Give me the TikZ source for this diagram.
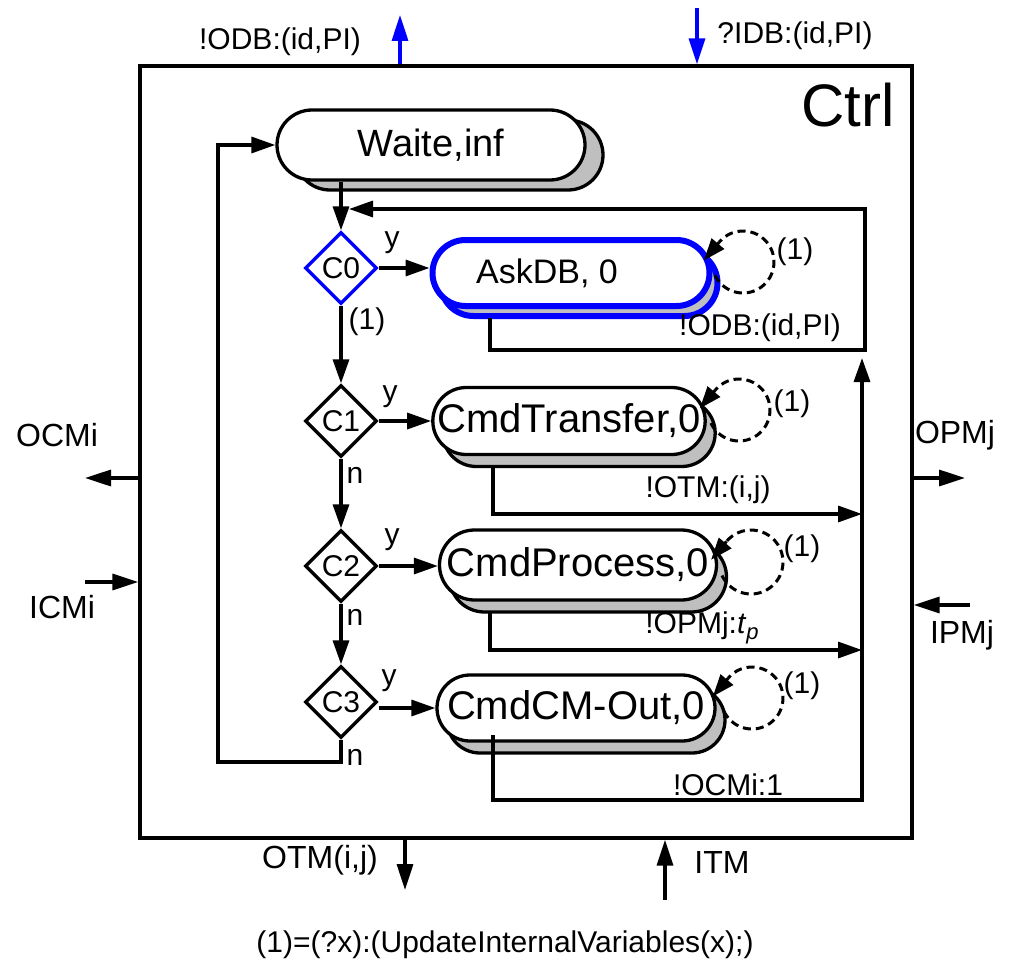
\documentclass[tikz,border=0pt]{standalone}
\usepackage{fontspec}
\setmainfont{Liberation Sans}
\usetikzlibrary{arrows.meta,shapes.geometric,shapes.misc,shadows,calc}
\newcommand\myfs[1]{\fontsize{#1}{#1}\selectfont}
\begin{document}
\begin{tikzpicture}[x=1pt,y=1pt,
  lw/.style={line width=3.3pt},
  conn/.style={lw,-{Triangle[length=24pt,width=16pt]}},
  port/.style={lw,-{Triangle[length=26pt,width=16pt]}},
  pill/.style={rounded rectangle,draw,lw,fill=white,inner sep=0pt,font=\myfs{40}},
  shad/.style={copy shadow={shadow xshift=10pt,shadow yshift=-12pt,fill=black!25,draw=black,line width=3.3pt}},
  decision/.style={diamond,draw,lw,fill=white,minimum width=72pt,minimum height=72pt,inner sep=0pt,font=\myfs{30}},
  lbl/.style={font=\myfs{30},inner sep=0pt},
  sm/.style={font=\myfs{30},inner sep=0pt},
  selfloop/.style={dash pattern=on 8pt off 5pt,line width=3pt},
  looptip/.style={solid,line width=3pt,-{Triangle[length=22pt,width=16pt]}}
]
\useasboundingbox (0,0) rectangle (1023,-971);

% main box
\node[draw,lw,minimum width=772pt,minimum height=772pt,inner sep=0pt] (box) at (526,-452) {};
\node[font=\myfs{60},inner sep=0pt] (ctrl) at (848,-105) {Ctrl};

% states
\node[pill,font=\myfs{38},minimum width=308pt,minimum height=70pt,
  copy shadow={shadow xshift=18pt,shadow yshift=-10pt,fill=black!25,draw=black,line width=3.3pt}]
  (waite) at (431,-145) {Waite,inf};
\node[pill,font=\myfs{34},draw=blue,line width=6pt,minimum width=277pt,minimum height=66pt,
  copy shadow={shadow xshift=8pt,shadow yshift=-10pt,fill=black!25,draw=blue,line width=6pt}]
  (ask) at (571,-273) {AskDB, 0\hspace*{48pt}};
\node[pill,shad,minimum width=272pt,minimum height=67pt] (xfer) at (569,-421) {CmdTransfer,0};
\node[pill,shad,minimum width=277pt,minimum height=70pt] (proc) at (578,-565) {CmdProcess,0};
\node[pill,shad,minimum width=278pt,minimum height=66pt] (cmout) at (576,-708) {CmdCM-Out,0};

% decisions
\node[decision,draw=blue] (c0) at (341,-268) {C0};
\node[decision] (c1) at (341,-421) {C1};
\node[decision] (c2) at (341,-566) {C2};
\node[decision] (c3) at (341,-702) {C3};

% coordinates
\coordinate (fbR) at (865,-350);
\coordinate (fbT) at (865,-209);
\coordinate (fbL) at (349,-209);
\coordinate (b514) at (862,-514);
\coordinate (b650) at (862,-650);
\coordinate (b800) at (862,-800);
\coordinate (b358) at (862,-358);
\coordinate (lp) at (218,-762);

% vertical flow
\draw[conn] (c0 |- waite.south) -- (c0.north);
\draw[conn] (c0.south) -- (c1.north);
\draw[conn] (c1.south) -- (c2.north);
\draw[conn] (c2.south) -- (c3.north);
\draw[conn] (c3.south) |- (lp) |- (waite.west);

% yes branches
\draw[conn] (c0.east) -- (c0.east -| ask.west);
\draw[conn] (c1.east) -- (c1.east -| xfer.west);
\draw[conn] (c2.east) -- (c2.east -| proc.west);
\draw[conn] ([yshift=-6pt]c3.east) -- ([yshift=-6pt]c3.east -| cmout.west);

% outputs
\draw[conn] (490,-318) |- (fbR) -- (fbT) -- (fbL);
\draw[conn] (493,-467) |- (b514);
\draw[conn] (490,-612) |- (b650);
\draw[conn] (493,-735) |- (b800) -- (b358);

% self loops
\coordinate (L0) at (743,-262);
\coordinate (L1) at (739,-410);
\coordinate (L2) at (751,-562);
\coordinate (L3) at (752,-698);
\draw[selfloop] ($(L0)+(205:31pt)$) arc[start angle=205,end angle=500,radius=31pt];
\draw[looptip] ($(L0)+(140:31pt)$) -- ++(230:24pt);
\draw[selfloop] ($(L1)+(205:31pt)$) arc[start angle=205,end angle=500,radius=31pt];
\draw[looptip] ($(L1)+(140:31pt)$) -- ++(230:24pt);
\draw[selfloop] ($(L2)+(205:32pt)$) arc[start angle=205,end angle=500,radius=32pt];
\draw[looptip] ($(L2)+(140:32pt)$) -- ++(230:24pt);
\draw[selfloop] ($(L3)+(205:31pt)$) arc[start angle=205,end angle=500,radius=31pt];
\draw[looptip] ($(L3)+(140:31pt)$) -- ++(230:24pt);
\node[sm] (l0) at (795,-252) {(1)};
\node[sm] (l1) at (792,-404) {(1)};
\node[sm] (l2) at (802,-549) {(1)};
\node[sm] (l3) at (802,-686) {(1)};

% labels on flow
\node[sm] (y0) at (392,-243) {y};
\node[sm] (y1) at (390,-397) {y};
\node[sm] (y2) at (392,-540) {y};
\node[sm] (y3) at (389,-681) {y};
\node[sm] (n1) at (355,-475) {n};
\node[sm] (n2) at (355,-617) {n};
\node[sm] (n3) at (355,-757) {n};
\node[sm] (one0) at (367,-322) {(1)};
\node[lbl] (t0) at (760,-328) {!ODB:(id,PI)};
\node[lbl] (t1) at (708,-490) {!OTM:(i,j)};
\node[lbl] (t2) at (702,-628) {!OPMj:\textit{t}\raisebox{-0.35ex}{\myfs{22}\textit{p}}};
\node[lbl] (t3) at (728,-785) {!OCMi:1};

% ports
\coordinate (podb) at (400,-15);
\coordinate (pidb) at (697,-8);
\coordinate (pocm) at (85,-478);
\coordinate (picm) at (85,-582);
\coordinate (popm) at (965,-478);
\coordinate (pipm) at (970,-605);
\coordinate (potm) at (405,-890);
\coordinate (pitm) at (665,-900);
\draw[port,blue] (podb |- box.north) -- (podb);
\draw[port,blue] (pidb) -- (pidb |- box.north);
\draw[port] (pocm -| box.west) -- (pocm);
\draw[port] (picm) -- (picm -| box.west);
\draw[port] (popm -| box.east) -- (popm);
\draw[port] (pipm) -- (pipm -| box.east);
\draw[port] (potm |- box.south) -- (potm);
\draw[port] (pitm) -- (pitm |- box.south);

\node[lbl] (lodb) at (280,-42) {!ODB:(id,PI)};
\node[lbl] (lidb) at (795,-36) {?IDB:(id,PI)};
\node[lbl,font=\myfs{32}] (locm) at (57,-435) {OCMi};
\node[lbl,font=\myfs{32}] (licm) at (62,-607) {ICMi};
\node[lbl,font=\myfs{32}] (lopm) at (955,-435) {OPMj};
\node[lbl,font=\myfs{32}] (lipm) at (962,-635) {IPMj};
\node[lbl,font=\myfs{32}] (lotm) at (320,-860) {OTM(i,j)};
\node[lbl,font=\myfs{32}] (litm) at (722,-862) {ITM};
\node[lbl] (foot) at (505,-945) {(1)=(?x):(UpdateInternalVariables(x);)};
\end{tikzpicture}
\end{document}
